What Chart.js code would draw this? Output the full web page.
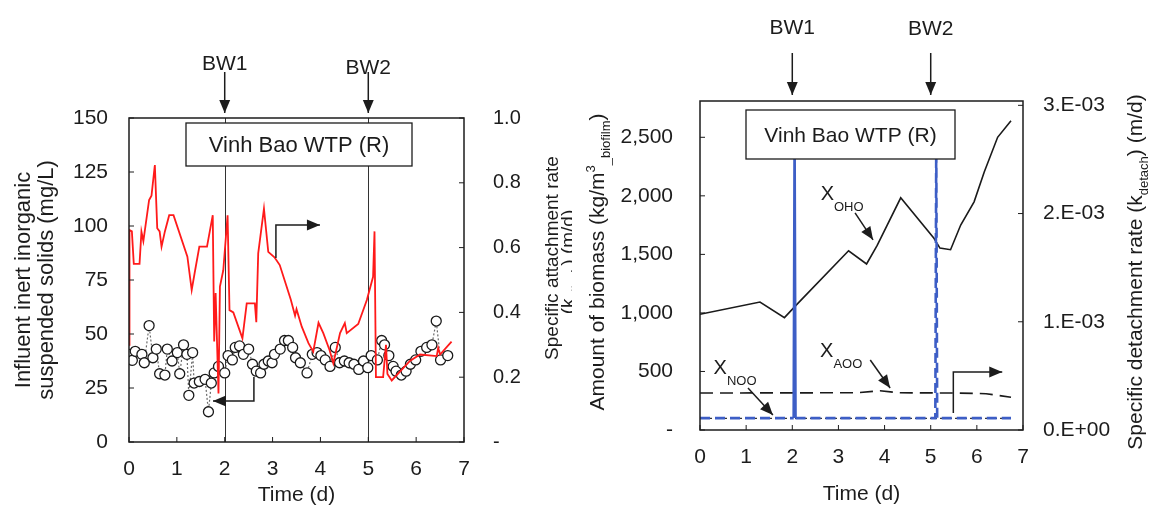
<!DOCTYPE html>
<html>
<head>
<meta charset="utf-8">
<script src="https://cdn.jsdelivr.net/npm/chart.js@4.4.1/dist/chart.umd.min.js"></script>
<style>
  html, body { margin: 0; padding: 0; background: #fff; }
  #wrap { position: relative; width: 1149px; height: 509px; overflow: hidden; }
  canvas { position: absolute; top: 0; }
  #left { left: 0; }
  #right { left: 572px; }
</style>
</head>
<body>
<div id="wrap">
  <canvas id="left" width="590" height="509" style="width:590px;height:509px"></canvas>
  <canvas id="right" width="577" height="509" style="width:577px;height:509px"></canvas>
</div>
<script>
const fontFam = '"Liberation Sans", Arial, Helvetica, sans-serif';
const ink = '#1c1c1c';

// --- left panel: influent inert inorganic suspended solids (mg/L), circles
const issDays = [
  0.00, 0.07, 0.13, 0.27, 0.32, 0.42, 0.50, 0.57, 0.64, 0.75,
  0.80, 0.90, 1.01, 1.06, 1.14, 1.21, 1.25, 1.33, 1.36, 1.47,
  1.59, 1.66, 1.72, 1.78, 1.87, 2.00, 2.07, 2.16, 2.22, 2.31,
  2.39, 2.50, 2.58, 2.66, 2.75, 2.82, 2.91, 2.99, 3.04, 3.16,
  3.25, 3.33, 3.42, 3.48, 3.58, 3.72, 3.83, 3.93, 4.01, 4.10,
  4.20, 4.31, 4.40, 4.50, 4.60, 4.70, 4.80, 4.90, 4.99, 5.06,
  5.19, 5.28, 5.34, 5.43, 5.52, 5.58, 5.69, 5.79, 5.88, 5.99,
  6.10, 6.22, 6.33, 6.42, 6.51, 6.66
];
const issValues = [
  40.6, 37.8, 42.0, 40.6, 36.7, 53.9, 39.0, 43.0, 31.6, 31.0,
  43.0, 37.5, 41.4, 31.6, 45.0, 40.6, 21.6, 41.4, 27.3, 28.0,
  29.0, 14.0, 27.3, 32.0, 35.0, 32.0, 40.0, 38.0, 43.8, 44.5,
  40.6, 43.0, 36.0, 32.8, 32.0, 36.0, 37.5, 36.7, 40.6, 43.0,
  47.0, 47.0, 43.8, 39.0, 36.7, 32.0, 40.6, 41.4, 40.0, 38.0,
  35.0, 43.8, 36.7, 37.5, 36.7, 36.0, 33.6, 37.5, 34.4, 40.0,
  38.0, 47.0, 45.0, 40.0, 35.0, 32.8, 31.0, 32.8, 36.0, 38.0,
  42.0, 43.8, 45.0, 56.0, 38.0, 40.0
];

// --- left panel: specific attachment rate (m/d), red line on right axis
const attachDays = [
  0.00, 0.01, 0.06, 0.10, 0.22, 0.26, 0.30, 0.42, 0.47, 0.54,
  0.59, 0.64, 0.68, 0.75, 0.84, 0.93, 1.22, 1.31, 1.37, 1.47,
  1.63, 1.75, 1.78, 1.81, 1.87, 1.90, 1.97, 2.06, 2.10, 2.18,
  2.37, 2.46, 2.63, 2.66, 2.70, 2.82, 2.91, 3.04, 3.15, 3.38,
  3.47, 3.50, 3.61, 3.75, 3.85, 3.96, 4.06, 4.19, 4.27, 4.41,
  4.51, 4.55, 4.79, 4.97, 5.10, 5.13, 5.16, 5.31, 5.37, 5.40,
  5.49, 5.87, 6.08, 6.43, 6.46, 6.50, 6.74
];
const attachRate = [
  0.30, 0.654, 0.65, 0.55, 0.55, 0.649, 0.62, 0.747, 0.76, 0.855,
  0.66, 0.65, 0.603, 0.65, 0.70, 0.70, 0.572, 0.469, 0.52, 0.603,
  0.603, 0.70, 0.31, 0.46, 0.15, 0.48, 0.53, 0.70, 0.407, 0.40,
  0.32, 0.428, 0.428, 0.37, 0.582, 0.72, 0.587, 0.57, 0.546, 0.44,
  0.39, 0.41, 0.356, 0.305, 0.279, 0.368, 0.336, 0.284, 0.243, 0.336,
  0.367, 0.336, 0.364, 0.438, 0.51, 0.65, 0.20, 0.20, 0.30, 0.21,
  0.19, 0.25, 0.27, 0.265, 0.29, 0.27, 0.31
];

// backwash events (d)
const backwashDays = [2, 5];
const backwashLabels = ['BW1', 'BW2'];

// --- right panel: biomass (kg/m3 biofilm)
const ohoDays = [0, 1.30, 1.83, 2.10, 3.22, 3.61, 3.84, 4.35, 5.07, 5.20, 5.43, 5.65, 5.94, 6.16, 6.45, 6.74];
const ohoValues = [989, 1093, 960, 1073, 1531, 1418, 1576, 1983, 1638, 1554, 1540, 1751, 1949, 2203, 2500, 2641];
const aooDays = [0, 3.40, 3.90, 4.30, 5.50, 6.20, 6.74];
const aooValues = [316, 318, 335, 318, 316, 310, 280];
const nooDays = [0, 6.74];
const nooValues = [100, 100];

// --- right panel: specific detachment rate (m/d), blue on right axis
const detachDays = [0, 2.03, 2.05, 2.07, 5.10, 5.12, 5.14, 6.74];
const detachRate = [1.1e-4, 1.1e-4, 2.7e-3, 1.1e-4, 1.1e-4, 2.7e-3, 1.1e-4, 1.1e-4];

// axis ticks
const timeTicks = [0, 1, 2, 3, 4, 5, 6, 7];
const issTicks = [0, 25, 50, 75, 100, 125, 150];
const attachTicks = [0, 0.2, 0.4, 0.6, 0.8, 1.0];
const biomassTicks = [0, 500, 1000, 1500, 2000, 2500];
const detachTicks = [0, 0.001, 0.002, 0.003];

const pts = (xs, ys) => xs.map((x, i) => ({ x, y: ys[i] }));
const setTicks = list => s => { s.ticks = list.map(v => ({ value: v })); };

function richText(ctx, parts, x, y, size, rot) {
  ctx.save();
  ctx.translate(x, y);
  if (rot) ctx.rotate(rot);
  ctx.textAlign = 'left';
  ctx.textBaseline = 'alphabetic';
  ctx.fillStyle = ink;
  const runs = parts.map(([t, kind]) => {
    const s = kind ? Math.round(size * 0.64) : size;
    ctx.font = s + 'px ' + fontFam;
    let dy = 0;
    if (kind === 'sub') dy = size * 0.3;
    if (kind === 'low') dy = size * 0.55;
    if (kind === 'sup') dy = -size * 0.4;
    return { t, s, dy, w: ctx.measureText(t).width };
  });
  const total = runs.reduce((a, r) => a + r.w, 0);
  let cx = -total / 2;
  runs.forEach(r => {
    ctx.font = r.s + 'px ' + fontFam;
    ctx.fillText(r.t, cx, size * 0.36 + r.dy);
    cx += r.w;
  });
  ctx.restore();
}

function arrow(ctx, p, head) {
  ctx.beginPath();
  ctx.moveTo(p[0][0], p[0][1]);
  for (let i = 1; i < p.length; i++) ctx.lineTo(p[i][0], p[i][1]);
  ctx.stroke();
  const [x1, y1] = p[p.length - 2];
  const [x2, y2] = p[p.length - 1];
  const a = Math.atan2(y2 - y1, x2 - x1);
  const c = Math.cos(a), s = Math.sin(a), w = head * 0.42;
  ctx.beginPath();
  ctx.moveTo(x2, y2);
  ctx.lineTo(x2 - head * c + w * s, y2 - head * s - w * c);
  ctx.lineTo(x2 - head * c - w * s, y2 - head * s + w * c);
  ctx.closePath();
  ctx.fill();
}

// frame, inward ticks, backwash markers, call-outs and axis titles
function makeDecor(cfg) {
  return {
    id: 'decor',
    beforeDraw(chart) {
      if (!cfg.background) return;
      const c = chart.ctx;
      c.save();
      c.fillStyle = cfg.background;
      c.fillRect(0, 0, chart.width, chart.height);
      c.restore();
    },
    beforeDatasetsDraw(chart) {
      const { ctx, chartArea: a, scales } = chart;
      ctx.save();
      ctx.strokeStyle = '#333';
      ctx.lineWidth = 1;
      (cfg.eventLines || []).forEach(d => {
        const x = Math.round(scales.x.getPixelForValue(d)) + 0.5;
        ctx.beginPath();
        ctx.moveTo(x, a.top);
        ctx.lineTo(x, a.bottom);
        ctx.stroke();
      });
      ctx.restore();
    },
    afterDraw(chart) {
      const { ctx, chartArea: a, scales } = chart;
      const px = (sc, v) => sc.getPixelForValue(v);
      ctx.save();
      ctx.strokeStyle = ink;
      ctx.fillStyle = ink;

      // call-out arrows in data units
      ctx.lineWidth = 1.5;
      cfg.arrows.forEach(ar => {
        const ys = scales[ar.axis];
        arrow(ctx, ar.pts.map(([t, v]) => [px(scales.x, t), px(ys, v)]), ar.head || 13);
      });

      // plot frame
      ctx.lineWidth = 1.5;
      ctx.strokeRect(a.left, a.top, a.right - a.left, a.bottom - a.top);

      // inward tick marks
      ctx.lineWidth = 1;
      const tl = 5;
      scales.x.ticks.forEach(t => {
        const x = px(scales.x, t.value);
        ctx.beginPath(); ctx.moveTo(x, a.bottom); ctx.lineTo(x, a.bottom - tl); ctx.stroke();
      });
      scales.y.ticks.forEach(t => {
        const y = px(scales.y, t.value);
        ctx.beginPath(); ctx.moveTo(a.left, y); ctx.lineTo(a.left + tl, y); ctx.stroke();
      });
      scales.y1.ticks.forEach(t => {
        const y = px(scales.y1, t.value);
        ctx.beginPath(); ctx.moveTo(a.right, y); ctx.lineTo(a.right - tl, y); ctx.stroke();
      });

      // backwash markers above the frame
      ctx.lineWidth = 1.5;
      backwashDays.forEach((d, i) => {
        const x = px(scales.x, d);
        arrow(ctx, [[x, a.top + cfg.bw.from], [x, a.top + cfg.bw.to]], 13);
        richText(ctx, [[backwashLabels[i]]], x, a.top + cfg.bw.labelY[i], cfg.bw.size, 0);
      });

      // site label box
      const b = cfg.box;
      ctx.fillStyle = '#fff';
      ctx.fillRect(a.left + b.x0, a.top + b.y0, b.x1 - b.x0, b.y1 - b.y0);
      ctx.lineWidth = 1.3;
      ctx.strokeRect(a.left + b.x0, a.top + b.y0, b.x1 - b.x0, b.y1 - b.y0);
      richText(ctx, [[b.text]], a.left + (b.x0 + b.x1) / 2, a.top + (b.y0 + b.y1) / 2, b.size, 0);

      // series labels in data units
      (cfg.labels || []).forEach(l => {
        richText(ctx, l.parts, px(scales.x, l.at[0]), px(scales.y, l.at[1]), l.size, 0);
      });

      // axis titles
      cfg.titles.forEach(t => {
        const [x, y] = t.at(a);
        richText(ctx, t.parts, x, y, t.size, t.rot || 0);
      });
      ctx.restore();
    }
  };
}

const tickFont = size => ({ family: fontFam, size });
const noGrid = { display: false, drawTicks: false };
const noBorder = { display: false };
const UP = -Math.PI / 2;

// ---------------- left panel ----------------
new Chart(document.getElementById('left'), {
  type: 'line',
  data: {
    datasets: [
      {
        label: 'Specific attachment rate',
        data: pts(attachDays, attachRate),
        yAxisID: 'y1',
        borderColor: '#ff1a1a',
        borderWidth: 1.8,
        pointRadius: 0,
        tension: 0,
        order: 0
      },
      {
        label: 'Influent inert inorganic suspended solids',
        data: pts(issDays, issValues),
        yAxisID: 'y',
        borderColor: '#6b6b6b',
        borderWidth: 1.2,
        borderDash: [2, 2],
        pointRadius: 5,
        pointBackgroundColor: '#ffffff',
        pointBorderColor: '#1a1a1a',
        pointBorderWidth: 1.3,
        tension: 0,
        order: 1
      }
    ]
  },
  options: {
    responsive: false,
    animation: false,
    layout: { padding: { top: 118, left: 0, right: 0, bottom: 0 } },
    plugins: { legend: { display: false }, tooltip: { enabled: false } },
    scales: {
      x: {
        type: 'linear', min: 0, max: 7,
        afterBuildTicks: setTicks(timeTicks),
        ticks: { font: tickFont(21), color: ink, padding: 15 },
        grid: noGrid, border: noBorder,
        afterFit: s => { s.height = 67; }
      },
      y: {
        position: 'left', min: 0, max: 150,
        afterBuildTicks: setTicks(issTicks),
        ticks: { font: tickFont(21), color: ink, padding: 21 },
        grid: noGrid, border: noBorder,
        afterFit: s => { s.width = 129; }
      },
      y1: {
        position: 'right', min: 0, max: 1,
        afterBuildTicks: setTicks(attachTicks),
        ticks: { font: tickFont(20), color: ink, padding: 29, callback: v => (v === 0 ? '-' : v.toFixed(1)) },
        grid: noGrid, border: noBorder,
        afterFit: s => { s.width = 126; }
      }
    }
  },
  plugins: [makeDecor({
    eventLines: backwashDays,
    arrows: [
      { axis: 'y', pts: [[3.07, 85.2], [3.07, 100.5], [3.99, 100.5]] },
      { axis: 'y', pts: [[2.61, 30.1], [2.61, 19.0], [1.755, 19.0]] }
    ],
    bw: { from: -46, to: -5, labelY: [-56, -52], size: 21 },
    box: { text: 'Vinh Bao WTP (R)', x0: 57, x1: 283, y0: 5, y1: 48, size: 22 },
    titles: [
      { parts: [['Influent inert inorganic']], size: 22, rot: UP, at: a => [a.left - 107, (a.top + a.bottom) / 2] },
      { parts: [['suspended solids (mg/L)']], size: 22, rot: UP, at: a => [a.left - 84, (a.top + a.bottom) / 2] },
      { parts: [['Specific attachment rate']], size: 19, rot: UP, at: a => [a.right + 87, 258] },
      { parts: [['(k'], ['attach', 'sub'], [') (m/d)']], size: 19, rot: UP, at: a => [a.right + 103, 262] },
      { parts: [['Time (d)']], size: 21, at: a => [(a.left + a.right) / 2, a.bottom + 51] }
    ]
  })]
});

// ---------------- right panel ----------------
new Chart(document.getElementById('right'), {
  type: 'line',
  data: {
    datasets: [
      {
        label: 'Specific detachment rate',
        data: pts(detachDays, detachRate),
        yAxisID: 'y1',
        borderColor: '#3d5ec6',
        borderWidth: 2.6,
        borderDash: [10, 5],
        segment: {
          borderDash: c => (c.p0.parsed.x >= 2.0 && c.p1.parsed.x <= 2.1 ? [] : [10, 5])
        },
        pointRadius: 0,
        tension: 0,
        order: 0
      },
      {
        label: 'X_NOO',
        data: pts(nooDays, nooValues),
        yAxisID: 'y',
        borderColor: '#333',
        borderWidth: 1.3,
        borderDash: [2, 3],
        pointRadius: 0,
        order: 1
      },
      {
        label: 'X_AOO',
        data: pts(aooDays, aooValues),
        yAxisID: 'y',
        borderColor: '#1a1a1a',
        borderWidth: 1.6,
        borderDash: [13, 7],
        pointRadius: 0,
        tension: 0,
        order: 2
      },
      {
        label: 'X_OHO',
        data: pts(ohoDays, ohoValues),
        yAxisID: 'y',
        borderColor: '#1a1a1a',
        borderWidth: 1.6,
        pointRadius: 0,
        tension: 0,
        order: 3
      }
    ]
  },
  options: {
    responsive: false,
    animation: false,
    layout: { padding: { top: 101, left: 0, right: 0, bottom: 0 } },
    plugins: { legend: { display: false }, tooltip: { enabled: false } },
    scales: {
      x: {
        type: 'linear', min: 0, max: 7,
        afterBuildTicks: setTicks(timeTicks),
        ticks: { font: tickFont(21), color: ink, padding: 15 },
        grid: noGrid, border: noBorder,
        afterFit: s => { s.height = 79; }
      },
      y: {
        position: 'left', min: 0, max: 2810,
        afterBuildTicks: setTicks(biomassTicks),
        ticks: { font: tickFont(21), color: ink, padding: 27, callback: v => (v === 0 ? '-' : v.toLocaleString('en-US')) },
        grid: noGrid, border: noBorder,
        afterFit: s => { s.width = 128; }
      },
      y1: {
        position: 'right', min: 0, max: 0.00304,
        afterBuildTicks: setTicks(detachTicks),
        ticks: {
          font: tickFont(21), color: ink, padding: 20,
          callback: v => (v === 0 ? '0.E+00' : Math.round(v * 1000) + '.E-03')
        },
        grid: noGrid, border: noBorder,
        afterFit: s => { s.width = 126; }
      }
    }
  },
  plugins: [makeDecor({
    background: '#ffffff',
    arrows: [
      { axis: 'y', pts: [[5.49, 145], [5.49, 495], [6.55, 495]] },
      { axis: 'y', pts: [[3.36, 1855], [3.75, 1624]] },
      { axis: 'y', pts: [[3.69, 598], [4.12, 359]] },
      { axis: 'y', pts: [[1.04, 359], [1.58, 128]] }
    ],
    bw: { from: -48, to: -6, labelY: [-75, -74], size: 21 },
    box: { text: 'Vinh Bao WTP (R)', x0: 46, x1: 255, y0: 9, y1: 58, size: 21 },
    labels: [
      { parts: [['X'], ['OHO', 'low']], size: 20, at: [3.08, 2026] },
      { parts: [['X'], ['AOO', 'low']], size: 20, at: [3.06, 684] },
      { parts: [['X'], ['NOO', 'low']], size: 20, at: [0.76, 538] }
    ],
    titles: [
      { parts: [['Amount of biomass (kg/m'], ['3', 'sup'], ['_biofilm', 'sub'], [')']], size: 21, rot: UP, at: a => [a.left - 104, 262] },
      { parts: [['Specific detachment rate (k'], ['detach', 'sub'], [') (m/d)']], size: 21, rot: UP, at: a => [a.right + 111, 272] },
      { parts: [['Time (d)']], size: 21, at: a => [(a.left + a.right) / 2, a.bottom + 62] }
    ]
  })]
});
</script>
</body>
</html>
